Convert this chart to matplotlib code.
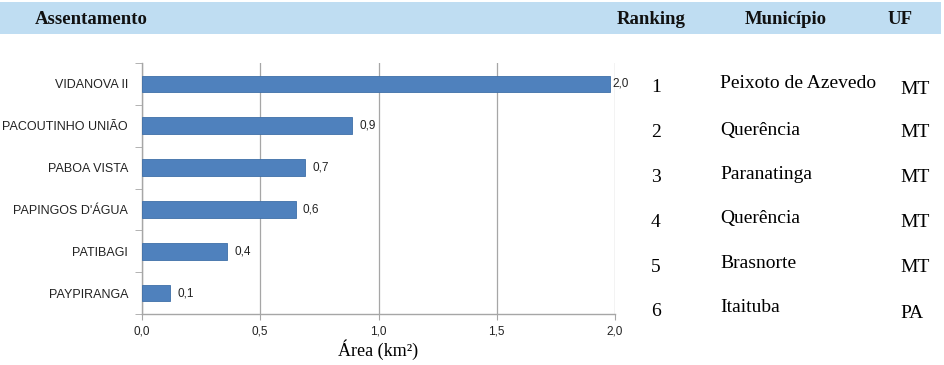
import matplotlib.pyplot as plt
from matplotlib.patches import Rectangle
from matplotlib.ticker import FixedLocator

assentamentos = ["VIDANOVA II", "PACOUTINHO UNIÃO", "PABOA VISTA",
                 "PAPINGOS D'ÁGUA", "PATIBAGI", "PAYPIRANGA"]
areas = [1.98, 0.89, 0.69, 0.65, 0.36, 0.12]
area_labels = ["2,0", "0,9", "0,7", "0,6", "0,4", "0,1"]
ranking = ["1", "2", "3", "4", "5", "6"]
municipios = ["Peixoto de Azevedo", "Querência", "Paranatinga",
              "Querência", "Brasnorte", "Itaituba"]
ufs = ["MT", "MT", "MT", "MT", "MT", "PA"]
x_ticks = [0.0, 0.5, 1.0, 1.5, 2.0]
x_tick_labels = ["0,0", "0,5", "1,0", "1,5", "2,0"]

W, H = 944, 365
fig = plt.figure(figsize=(W / 100, H / 100), dpi=100)

serif = "Liberation Serif"
sans = "Liberation Sans"
grey = "#A6A6A6"

# header band
fig.patches.append(Rectangle((0, 1 - 34 / H), 941 / W, 32 / H, transform=fig.transFigure,
                             facecolor="#BFDDF2", edgecolor="none", zorder=0))
hy = 1 - 19 / H
for txt, x in [("Assentamento", 35), ("Ranking", 617), ("Município", 745), ("UF", 888)]:
    fig.text(x / W, hy, txt, family=serif, fontweight="bold", fontsize=13.5,
             va="center", ha="left", color="#111111")

ax = fig.add_axes([142 / W, 1 - 314 / H, 473 / W, 251 / H])
pos = list(range(len(areas)))[::-1]
ax.barh(pos, areas, height=0.4, color="#4F81BD", edgecolor="#3F6FA8", linewidth=0.6, zorder=3)
for p, v, lab in zip(pos, areas, area_labels):
    ax.text(v + 0.03 if v < 1.9 else v + 0.01, p, lab, va="center", ha="left",
            fontsize=8.5, family=sans, color="#222222", zorder=4)

ax.set_xlim(0, 2.0)
ax.set_ylim(-0.5, len(areas) - 0.5)
ax.set_xticks(x_ticks)
ax.set_xticklabels(x_tick_labels, family=sans, fontsize=8.5, color="#222222")
ax.set_yticks(pos)
ax.set_yticklabels(assentamentos, family=sans, fontsize=9, color="#222222")
ax.yaxis.set_minor_locator(FixedLocator([i - 0.5 for i in range(len(areas) + 1)]))
ax.tick_params(axis="y", which="major", length=0, pad=10)
ax.tick_params(axis="y", which="minor", length=5, color=grey, direction="out")
ax.tick_params(axis="x", length=4, color=grey, pad=4)
ax.grid(axis="x", color=grey, linewidth=0.9, zorder=0)
for s in ["top", "right"]:
    ax.spines[s].set_visible(False)
for s in ["left", "bottom"]:
    ax.spines[s].set_color(grey)
    ax.spines[s].set_linewidth(1.0)
ax.set_xlabel("Área (km²)", family=serif, fontsize=13, labelpad=2)

# ranking table
rank_y = [87, 132, 177, 222, 267, 312]
mun_y = [84, 130, 175, 219, 264, 308]
uf_y = [89, 132, 178, 222, 267, 313]
for r, m, u, ry, my, uy in zip(ranking, municipios, ufs, rank_y, mun_y, uf_y):
    fig.text(651 / W, 1 - ry / H, r, family=serif, fontsize=14, va="center", ha="left")
    fig.text(720 / W, 1 - my / H, m, family=serif, fontsize=14, va="center", ha="left")
    fig.text(900 / W, 1 - uy / H, u, family=serif, fontsize=14, va="center", ha="left")

fig.savefig("out.png", dpi=100)
